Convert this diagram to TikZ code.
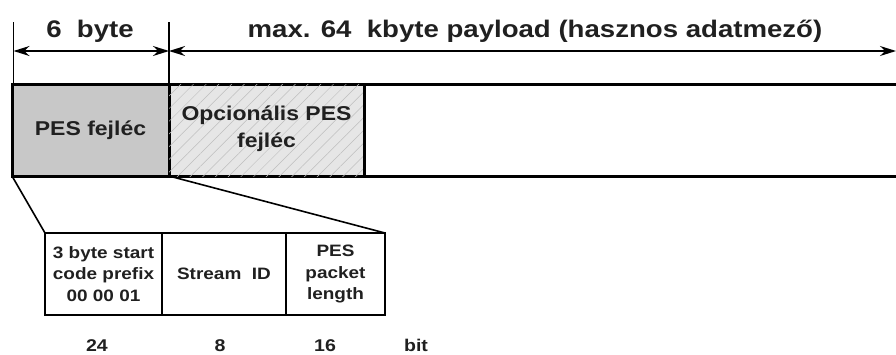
\documentclass[tikz,border=0pt]{standalone}
\usepackage{fontspec}
\setmainfont{Liberation Sans}[FakeStretch=1.15]
\usetikzlibrary{arrows.meta,patterns.meta}
\definecolor{hdrgray}{HTML}{C8C8C8}
\definecolor{optgray}{HTML}{E6E6E6}
\definecolor{hatchgray}{HTML}{BEBEBE}
\definecolor{txt}{HTML}{202020}
\begin{document}
\begin{tikzpicture}[x=1pt,y=-1pt,
  bigbox/.style={draw=black,line width=3pt,minimum height=92pt,inner sep=0pt,outer sep=0pt,
    font=\bfseries\fontsize{20}{27}\selectfont,text=txt,align=center},
  smallbox/.style={draw=black,line width=2pt,minimum height=82pt,inner sep=0pt,outer sep=0pt,
    font=\bfseries\fontsize{16.5}{21.5}\selectfont,text=txt,align=center},
  dimline/.style={line width=1.4pt,{Stealth[length=16pt,width=10pt]}-{Stealth[length=16pt,width=10pt]}},
  tick/.style={line width=1.4pt},
  title/.style={font=\bfseries\fontsize{24}{27}\selectfont,text=txt,inner sep=0pt,anchor=base},
  bitlabel/.style={font=\bfseries\fontsize{17}{20}\selectfont,text=txt,inner sep=0pt,anchor=base},
  link/.style={line width=1.6pt}]
\useasboundingbox (0,0) rectangle (896,354);
\begin{scope}
\clip (0,0) rectangle (896,354);
% main row
\node[bigbox,fill=hdrgray,minimum width=157pt] (pes) at (90.5,130) {PES fejléc};
\node[bigbox,fill=optgray,minimum width=195pt,
  postaction={pattern={Lines[angle=45,distance=9pt,line width=0.5pt]},pattern color=hatchgray}] (opt) at (266.5,130) {};
\node[bigbox,fill=white,minimum width=560pt] (pay) at (644,130) {};
\node[bigbox,draw=none] (optt) at (266.5,128.5) {Opcionális PES\\fejléc};
% ticks and dimension lines
\coordinate (t1) at (13.5,22);
\coordinate (t2) at (169,22);
\draw[tick] (t1) -- (t1 |- pes.north);
\draw[tick] (t2) -- (t2 |- pes.north);
\coordinate (a1) at (13.5,51);
\coordinate (a2) at (169,51);
\coordinate (a3) at (896,51);
\draw[dimline] (a1) -- (a2);
\draw[dimline] (a2) -- (a3);
\node[title] (l1) at (90,37) {6 \ byte};
\node[title] (l2) at (535,37) {max. 64 \ kbyte payload (hasznos adatmező)};
% lower fields
\node[smallbox,minimum width=117pt] (start) at (103.5,274) {3 byte start\\code prefix\\00 00 01};
\node[smallbox,minimum width=124pt] (sid) at (224,274) {Stream \ ID};
\node[smallbox,minimum width=99pt] (len) at (335.5,274) {PES\\packet\\length};
\draw[link] (pes.south west) -- (start.north west);
\draw[link] (pes.south east) -- (len.north east);
% bit widths
\node[bitlabel] (b1) at (97,351) {24};
\node[bitlabel] (b2) at (220,351) {8};
\node[bitlabel] (b3) at (325,351) {16};
\node[bitlabel] (b4) at (416,351) {bit};
\end{scope}
\end{tikzpicture}
\end{document}
